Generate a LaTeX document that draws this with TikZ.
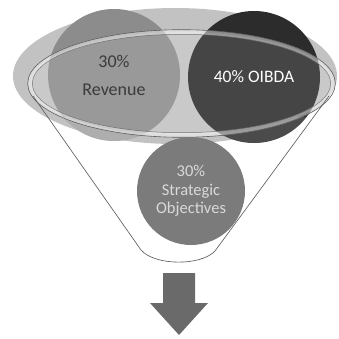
\documentclass[tikz,border=0pt]{standalone}
\usepackage{fontspec}
\setmainfont{Carlito}
\definecolor{outerc}{HTML}{C2C2C2}
\definecolor{revc}{HTML}{8C8C8C}
\definecolor{oibc}{HTML}{2C2C2C}
\definecolor{stratc}{HTML}{7B7B7B}
\definecolor{linec}{HTML}{5E5E5E}
\definecolor{arrowc}{HTML}{6A6A6A}
\definecolor{darktext}{HTML}{202020}
\definecolor{lighttext}{HTML}{D9D9D9}
\tikzset{
  ball/.style={circle, inner sep=0pt, align=center},
  funnelline/.style={draw=linec, line width=0.65pt, line join=round},
}
\begin{document}
\begin{tikzpicture}[x=1pt,y=-1pt]
\useasboundingbox (0,0) rectangle (338,339);
% outer ellipse (funnel top)
\fill[outerc] (175,76) ellipse [x radius=162, y radius=68];
% two big circles
\node[ball, fill=revc, minimum size=132pt, text=darktext, font=\fontsize{18}{28}\selectfont] (rev) at (114,75) {30\%\\Revenue};
\node[ball, fill=oibc, minimum size=132pt, text=white, font=\fontsize{17.5}{21}\selectfont] (oib) at (254,77) {40\% OIBDA};
% lighter lower parts of the circles, below the rim
\begin{scope}
  \clip (0,118) rectangle (338,160);
  \begin{scope}
    \clip (rev.center) circle [radius=66];
    \fill[white, opacity=0.3, even odd rule] (0,0) rectangle (338,200) (181.5,83.5) ellipse [x radius=151.5, y radius=51.5];
  \end{scope}
  \begin{scope}
    \clip (oib.center) circle [radius=66];
    \fill[white, opacity=0.15, even odd rule] (0,0) rectangle (338,200) (181.5,83.5) ellipse [x radius=151.5, y radius=51.5];
  \end{scope}
\end{scope}
% rim of funnel
\fill[white, opacity=0.12] (181.5,83.5) ellipse [x radius=151.5, y radius=51.5];
\draw[white, line width=4.5pt, opacity=0.45] (181.5,83.5) ellipse [x radius=151.5, y radius=51.5];
\draw[linec, line width=0.6pt] (181.5,83.5) ellipse [x radius=153.8, y radius=53.8];
\draw[linec, line width=0.5pt, opacity=0.8] (181.5,83.5) ellipse [x radius=149.2, y radius=49.2];
% funnel body
\coordinate (tl) at (33,96);
\coordinate (bl) at (141,250);
\coordinate (br) at (215,251);
\coordinate (tr) at (329,96);
\draw[funnelline] (tl) -- (bl) .. controls (155,266) and (201,266) .. (br) -- (tr);
% strategic circle
\node[ball, fill=stratc, minimum size=108pt, text=lighttext, font=\fontsize{16.5}{18.5}\selectfont] (str) at (191,191) {30\%\\Strategic\\Objectives};
% arrow
\fill[arrowc] (163,273) -- (195,273) -- (195,303) -- (208,303) -- (179,335) -- (150,303) -- (163,303) -- cycle;
\end{tikzpicture}
\end{document}
